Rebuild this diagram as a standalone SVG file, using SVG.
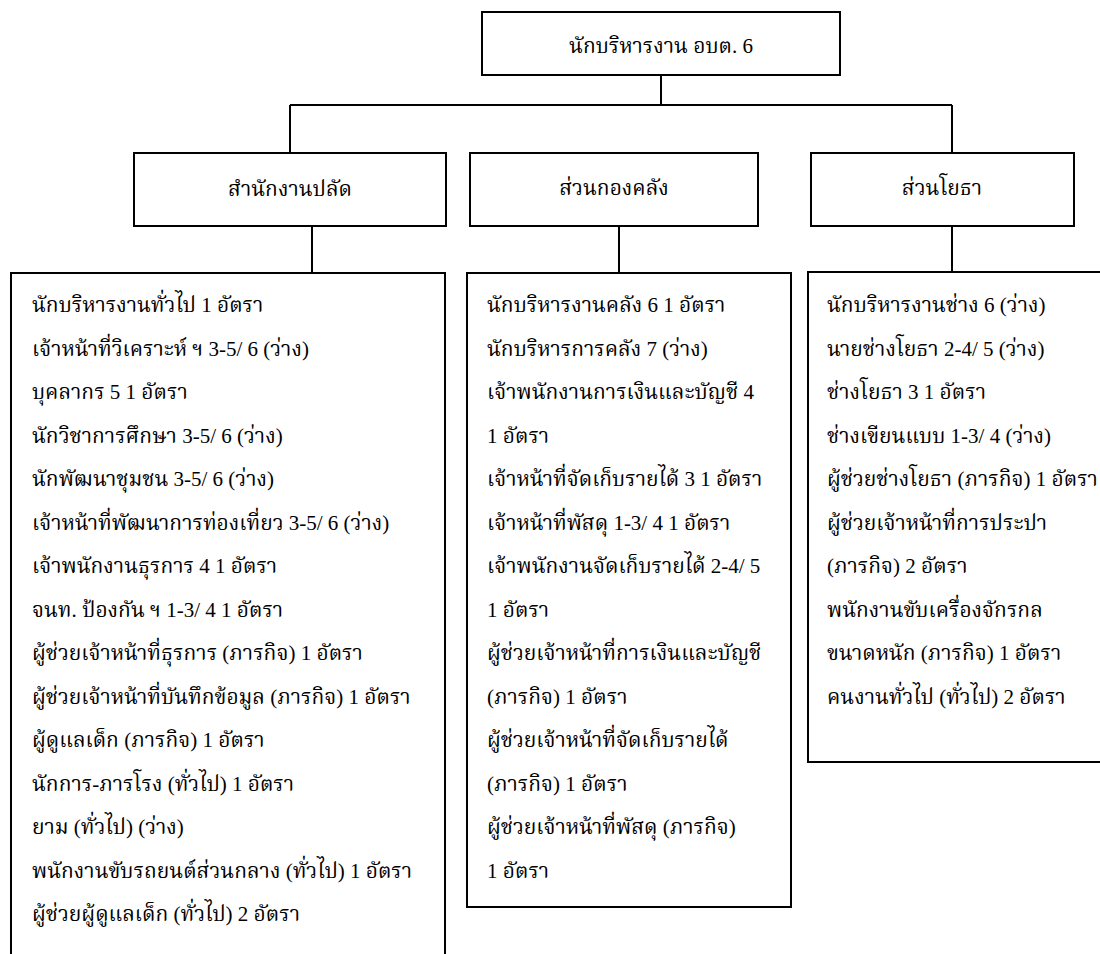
<svg xmlns="http://www.w3.org/2000/svg" width="1100" height="954" viewBox="0 0 1100 954">
<style>
.box{fill:#fff;stroke:#000;stroke-width:2}
.ln{fill:none;stroke:#000;stroke-width:2}
.t{font-family:"Liberation Serif","Noto Serif Thai","Noto Sans Thai",serif;font-size:21px;fill:#000}
.c{text-anchor:middle}
</style>
<rect width="1100" height="954" fill="#fff"/>
<g id="connectors">
<path class="ln" d="M661 75V105M290 105H952M290 105V153M952 105V153"/>
<path class="ln" d="M312 226V273M619 226V273M952 226V272"/>
</g>
<g id="top">
<rect class="box" x="482" y="12" width="358" height="63"/>
<text class="t c" x="661" y="53">นักบริหารงาน อบต. 6</text>
</g>
<g id="palad">
<rect class="box" x="134" y="153" width="312" height="73"/>
<text class="t c" x="290" y="196">สำนักงานปลัด</text>
</g>
<g id="klang">
<rect class="box" x="470" y="153" width="288" height="73"/>
<text class="t c" x="614" y="195">ส่วนกองคลัง</text>
</g>
<g id="yota">
<rect class="box" x="811" y="153" width="263" height="73"/>
<text class="t c" x="942" y="195">ส่วนโยธา</text>
</g>
<g id="palad-list">
<rect class="box" x="11" y="273" width="434" height="700"/>
<text class="t" x="32" y="312">นักบริหารงานทั่วไป 1 อัตรา</text>
<text class="t" x="32" y="355.5">เจ้าหน้าที่วิเคราะห์ ฯ 3-5/ 6 (ว่าง)</text>
<text class="t" x="32" y="399">บุคลากร 5 1 อัตรา</text>
<text class="t" x="32" y="442.5">นักวิชาการศึกษา 3-5/ 6 (ว่าง)</text>
<text class="t" x="32" y="486">นักพัฒนาชุมชน 3-5/ 6 (ว่าง)</text>
<text class="t" x="32" y="529.5">เจ้าหน้าที่พัฒนาการท่องเที่ยว 3-5/ 6  (ว่าง)</text>
<text class="t" x="32" y="573">เจ้าพนักงานธุรการ 4 1 อัตรา</text>
<text class="t" x="32" y="616.5">จนท. ป้องกัน ฯ 1-3/ 4 1 อัตรา</text>
<text class="t" x="32" y="660">ผู้ช่วยเจ้าหน้าที่ธุรการ (ภารกิจ) 1 อัตรา</text>
<text class="t" x="32" y="703.5">ผู้ช่วยเจ้าหน้าที่บันทึกข้อมูล (ภารกิจ)  1 อัตรา</text>
<text class="t" x="32" y="747">ผู้ดูแลเด็ก (ภารกิจ) 1 อัตรา</text>
<text class="t" x="32" y="790.5">นักการ-ภารโรง (ทั่วไป) 1 อัตรา</text>
<text class="t" x="32" y="834">ยาม (ทั่วไป) (ว่าง)</text>
<text class="t" x="32" y="877.5">พนักงานขับรถยนต์ส่วนกลาง (ทั่วไป) 1 อัตรา</text>
<text class="t" x="32" y="921">ผู้ช่วยผู้ดูแลเด็ก (ทั่วไป) 2 อัตรา</text>
</g>
<g id="klang-list">
<rect class="box" x="467" y="273" width="324" height="634"/>
<text class="t" x="487" y="312">นักบริหารงานคลัง 6 1 อัตรา</text>
<text class="t" x="487" y="355.5">นักบริหารการคลัง 7 (ว่าง)</text>
<text class="t" x="487" y="399">เจ้าพนักงานการเงินและบัญชี 4</text>
<text class="t" x="487" y="442.5">1 อัตรา</text>
<text class="t" x="487" y="486">เจ้าหน้าที่จัดเก็บรายได้ 3 1 อัตรา</text>
<text class="t" x="487" y="529.5">เจ้าหน้าที่พัสดุ 1-3/ 4 1 อัตรา</text>
<text class="t" x="487" y="573">เจ้าพนักงานจัดเก็บรายได้ 2-4/ 5</text>
<text class="t" x="487" y="616.5">1 อัตรา</text>
<text class="t" x="487" y="660">ผู้ช่วยเจ้าหน้าที่การเงินและบัญชี</text>
<text class="t" x="487" y="703.5">(ภารกิจ) 1 อัตรา</text>
<text class="t" x="487" y="747">ผู้ช่วยเจ้าหน้าที่จัดเก็บรายได้</text>
<text class="t" x="487" y="790.5">(ภารกิจ) 1 อัตรา</text>
<text class="t" x="487" y="834">ผู้ช่วยเจ้าหน้าที่พัสดุ (ภารกิจ)</text>
<text class="t" x="487" y="877.5">1 อัตรา</text>
</g>
<g id="yota-list">
<rect class="box" x="808" y="272" width="310" height="490"/>
<text class="t" x="827" y="312">นักบริหารงานช่าง 6 (ว่าง)</text>
<text class="t" x="827" y="355.5">นายช่างโยธา 2-4/ 5 (ว่าง)</text>
<text class="t" x="827" y="399">ช่างโยธา 3 1 อัตรา</text>
<text class="t" x="827" y="442.5">ช่างเขียนแบบ 1-3/ 4 (ว่าง)</text>
<text class="t" x="827" y="486">ผู้ช่วยช่างโยธา (ภารกิจ) 1 อัตรา</text>
<text class="t" x="827" y="529.5">ผู้ช่วยเจ้าหน้าที่การประปา</text>
<text class="t" x="827" y="573">(ภารกิจ) 2 อัตรา</text>
<text class="t" x="827" y="616.5">พนักงานขับเครื่องจักรกล</text>
<text class="t" x="827" y="660">ขนาดหนัก (ภารกิจ) 1 อัตรา</text>
<text class="t" x="827" y="703.5">คนงานทั่วไป (ทั่วไป) 2 อัตรา</text>
</g>
</svg>
